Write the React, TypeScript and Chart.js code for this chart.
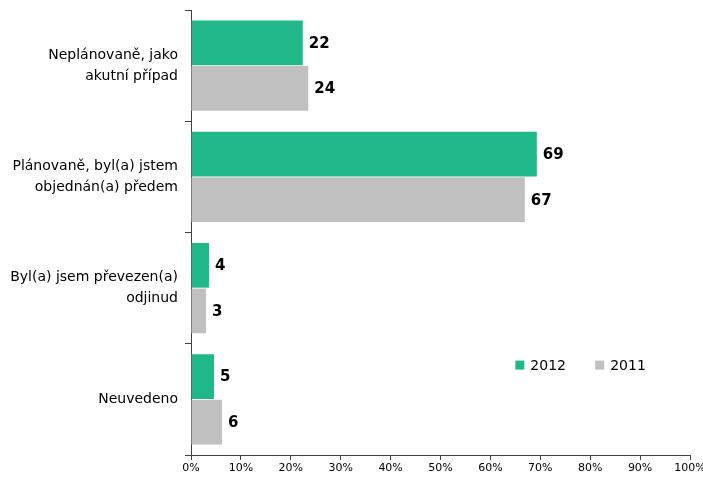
import React, { useEffect, useRef } from "react";
import { Chart, registerables } from "chart.js";

Chart.register(...registerables);

const categories: string[][] = [
  ["Neplánovaně, jako", "akutní případ"],
  ["Plánovaně, byl(a) jstem", "objednán(a) předem"],
  ["Byl(a) jsem převezen(a)", "odjinud"],
  ["Neuvedeno"],
];
const series2012: number[] = [22.4, 69.3, 3.6, 4.6];
const series2011: number[] = [23.5, 66.9, 3.0, 6.2];
const labels2012: string[] = ["22", "69", "4", "5"];
const labels2011: string[] = ["24", "67", "3", "6"];
const xTicks: number[] = [0, 10, 20, 30, 40, 50, 60, 70, 80, 90, 100];
const legendNames: string[] = ["2012", "2011"];

const GREEN = "#20B78A";
const GREY = "#C0C0C0";
const AXIS = "#404040";
const FONT = "'DejaVu Sans', Verdana, sans-serif";

export default function App() {
  const ref = useRef<HTMLCanvasElement | null>(null);

  useEffect(() => {
    document.body.style.margin = "0";
    const canvas = ref.current;
    if (!canvas) return;

    const dataLabelPlugin = {
      id: "dataLabels",
      afterDatasetsDraw(chart: any) {
        const ctx = chart.ctx;
        ctx.save();
        ctx.font = `bold 15px ${FONT}`;
        ctx.fillStyle = "#000";
        ctx.textAlign = "left";
        ctx.textBaseline = "middle";
        chart.data.datasets.forEach((ds: any, di: number) => {
          const meta = chart.getDatasetMeta(di);
          meta.data.forEach((bar: any, i: number) => {
            ctx.fillText(ds.valueLabels[i], bar.x + 6, bar.y + 1);
          });
        });
        ctx.restore();
      },
    };

    const legendPlugin = {
      id: "customLegend",
      afterDraw(chart: any) {
        const ctx = chart.ctx;
        const xs = chart.scales.x;
        const area = chart.chartArea;
        const y = area.top + (area.bottom - area.top) * 0.798;
        const starts = [xs.getPixelForValue(65), xs.getPixelForValue(81)];
        ctx.save();
        ctx.font = `14px ${FONT}`;
        ctx.textBaseline = "middle";
        ctx.textAlign = "left";
        chart.data.datasets.forEach((ds: any, i: number) => {
          ctx.fillStyle = ds.backgroundColor;
          ctx.fillRect(starts[i], y - 4.5, 9, 9);
          ctx.fillStyle = "#000";
          ctx.fillText(legendNames[i], starts[i] + 15, y + 1);
        });
        ctx.restore();
      },
    };

    const chart = new Chart(canvas, {
      type: "bar",
      data: {
        labels: categories,
        datasets: [
          {
            label: legendNames[0],
            data: series2012,
            backgroundColor: GREEN,
            valueLabels: labels2012,
            categoryPercentage: 0.82,
            barPercentage: 0.98,
          } as any,
          {
            label: legendNames[1],
            data: series2011,
            backgroundColor: GREY,
            valueLabels: labels2011,
            categoryPercentage: 0.82,
            barPercentage: 0.98,
          } as any,
        ],
      },
      options: {
        indexAxis: "y",
        responsive: false,
        animation: false,
        layout: { padding: { top: 10, right: 13, left: 0, bottom: 0 } },
        plugins: {
          legend: { display: false },
          tooltip: { enabled: false },
        },
        scales: {
          x: {
            min: 0,
            max: 100,
            afterBuildTicks(scale: any) {
              scale.ticks = xTicks.map((v) => ({ value: v }));
            },
            afterFit(scale: any) {
              scale.height = 22;
              scale.paddingLeft = 0;
              scale.paddingRight = 0;
            },
            ticks: {
              color: "#000",
              font: { family: FONT, size: 11 },
              padding: 2,
              maxRotation: 0,
              callback: (v: any) => `${v}%`,
            },
            grid: {
              drawOnChartArea: false,
              drawTicks: true,
              tickLength: 5,
              color: AXIS,
            },
            border: { display: true, color: AXIS, width: 1 },
          },
          y: {
            afterFit(scale: any) {
              scale.width = 191;
              scale.paddingTop = 0;
              scale.paddingBottom = 0;
            },
            ticks: {
              color: "#000",
              font: { family: FONT, size: 14, lineHeight: 1.5 },
              padding: 7,
            },
            grid: {
              offset: true,
              drawOnChartArea: false,
              drawTicks: true,
              tickLength: 6,
              color: AXIS,
            },
            border: { display: true, color: AXIS, width: 1 },
          },
        },
      },
      plugins: [dataLabelPlugin, legendPlugin],
    } as any);

    return () => chart.destroy();
  }, []);

  return (
    <div style={{ width: 703, height: 477, background: "#fff" }}>
      <canvas ref={ref} width={703} height={477} style={{ display: "block" }} />
    </div>
  );
}
